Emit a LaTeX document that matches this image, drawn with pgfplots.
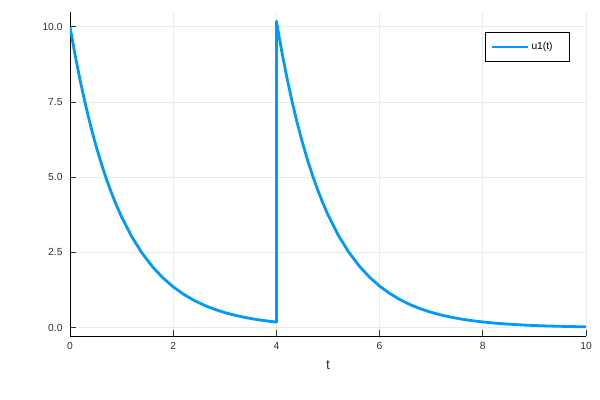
\documentclass[border=0pt]{standalone}
\usepackage{fontspec}
\setmainfont{Liberation Sans}
\usepackage{pgfplots}
\pgfplotsset{compat=1.18}
\definecolor{juliablue}{RGB}{0,154,250}
\definecolor{gridgray}{RGB}{235,235,235}
\definecolor{ticktext}{RGB}{50,50,50}
\begin{document}
\begin{tikzpicture}[x=1bp,y=1bp]
\begin{axis}[
  scale only axis,
  width=516bp, height=324bp,
  xmin=0, xmax=10, ymin=-0.28, ymax=10.49,
  axis lines*=left,
  axis line style={black, line width=0.9bp},
  tick align=inside,
  major tick length=6bp,
  xtick={0,2,4,6,8,10},
  ytick={0,2.5,5,7.5,10},
  x tick style={black!80, line width=0.8bp},
  y tick style={black!80, line width=0.8bp},
  grid=major,
  major grid style={gridgray, line width=0.8bp},
  /pgf/number format/assume math mode=true,
  yticklabel style={/pgf/number format/fixed, /pgf/number format/fixed zerofill, /pgf/number format/precision=1, xshift=-4bp},
  ticklabel style={font=\fontsize{10.3}{11}\selectfont, text=ticktext},
  xticklabel style={yshift=-3bp},
  xlabel={t},
  xlabel style={font=\fontsize{14}{16}\selectfont, text=ticktext, yshift=-4bp},
  legend style={at={(0.969,0.938)}, anchor=north east, draw=black, line width=0.8bp,
    font=\fontsize{10.3}{11}\selectfont, inner xsep=5bp, inner ysep=8bp,
    legend cell align=left},
  legend image code/.code={\draw[#1, line width=2.8bp] (-2bp,0bp) -- (34bp,0bp);},
]
\addplot[juliablue, line width=2.8bp, line join=round] coordinates {
(0.0,10.0) (0.1,9.0484) (0.2,8.1873) (0.3,7.4082) (0.4,6.7032) (0.5,6.0653)
(0.6,5.4881) (0.7,4.9659) (0.8,4.4933) (0.9,4.0657) (1.0,3.6788) (1.2,3.0119)
(1.4,2.4660) (1.6,2.0190) (1.8,1.6530) (2.0,1.3534) (2.2,1.1080) (2.4,0.9072)
(2.6,0.7427) (2.8,0.6081) (3.0,0.4979) (3.2,0.4076) (3.4,0.3337) (3.6,0.2732)
(3.8,0.2237) (4.0,0.1832)
(4.0,10.1832) (4.1,9.2142) (4.2,8.3373) (4.3,7.5439) (4.4,6.8260) (4.5,6.1764)
(4.6,5.5886) (4.7,5.0569) (4.8,4.5756) (4.9,4.1402) (5.0,3.7462) (5.2,3.0671)
(5.4,2.5112) (5.6,2.0560) (5.8,1.6833) (6.0,1.3782) (6.2,1.1283) (6.4,0.9238)
(6.6,0.7563) (6.8,0.6192) (7.0,0.5070) (7.2,0.4151) (7.4,0.3398) (7.6,0.2782)
(7.8,0.2278) (8.0,0.1865) (8.2,0.1527) (8.4,0.1250) (8.6,0.1024) (8.8,0.0838)
(9.0,0.0686) (9.2,0.0562) (9.4,0.0460) (9.6,0.0377) (9.8,0.0308) (10.0,0.0252)
};
\addlegendentry{u1(t)\rule{10bp}{0pt}}
\end{axis}
\useasboundingbox (current axis.south west) ++(-70bp,-64bp) rectangle ++(600bp,400bp);
\end{tikzpicture}
\end{document}
